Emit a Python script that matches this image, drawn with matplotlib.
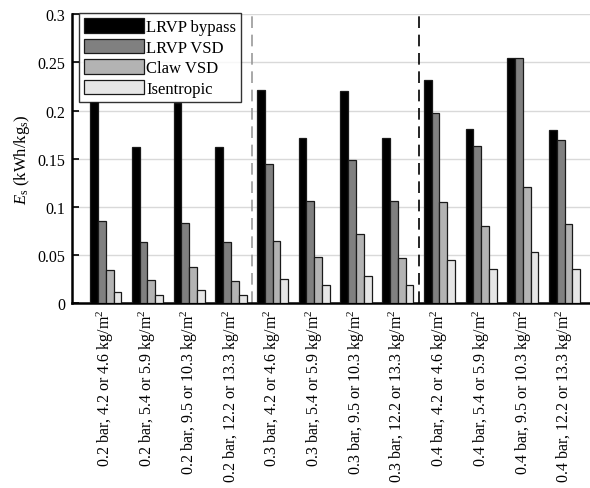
import matplotlib
matplotlib.use("Agg")
import matplotlib.pyplot as plt
import numpy as np

plt.rcParams['font.family'] = ['Liberation Serif', 'DejaVu Serif']
plt.rcParams['mathtext.fontset'] = 'custom'
plt.rcParams['mathtext.rm'] = 'Liberation Serif'
plt.rcParams['mathtext.it'] = 'Liberation Serif:italic'

# Operating points: pressure and loading
conditions = [
    "0.2 bar, 4.2 or 4.6 kg/m$^2$",
    "0.2 bar, 5.4 or 5.9 kg/m$^2$",
    "0.2 bar, 9.5 or 10.3 kg/m$^2$",
    "0.2 bar, 12.2 or 13.3 kg/m$^2$",
    "0.3 bar, 4.2 or 4.6 kg/m$^2$",
    "0.3 bar, 5.4 or 5.9 kg/m$^2$",
    "0.3 bar, 9.5 or 10.3 kg/m$^2$",
    "0.3 bar, 12.2 or 13.3 kg/m$^2$",
    "0.4 bar, 4.2 or 4.6 kg/m$^2$",
    "0.4 bar, 5.4 or 5.9 kg/m$^2$",
    "0.4 bar, 9.5 or 10.3 kg/m$^2$",
    "0.4 bar, 12.2 or 13.3 kg/m$^2$",
]

# Specific energy (kWh/kg_s) per pump configuration
lrvp_bypass = [0.209, 0.162, 0.208, 0.162, 0.221, 0.171, 0.220, 0.171, 0.232, 0.181, 0.255, 0.180]
lrvp_vsd    = [0.085, 0.063, 0.083, 0.063, 0.144, 0.106, 0.149, 0.106, 0.198, 0.163, 0.255, 0.169]
claw_vsd    = [0.034, 0.024, 0.037, 0.023, 0.064, 0.048, 0.072, 0.047, 0.105, 0.080, 0.121, 0.082]
isentropic  = [0.011, 0.008, 0.013, 0.008, 0.025, 0.019, 0.028, 0.019, 0.045, 0.035, 0.053, 0.035]

series = [
    ("LRVP bypass", lrvp_bypass, "#000000"),
    ("LRVP VSD", lrvp_vsd, "#808080"),
    ("Claw VSD", claw_vsd, "#b3b3b3"),
    ("Isentropic", isentropic, "#e6e6e6"),
]

fig = plt.figure(figsize=(5.9, 4.89), dpi=100)
ax = fig.add_axes([72 / 590, 1 - 304 / 489, 1 - 72 / 590, (304 - 15.4) / 489])

x = np.arange(1, len(conditions) + 1)
bw = 0.1875
offsets = [-1.5 * bw, -0.5 * bw, 0.5 * bw, 1.5 * bw]
for (name, vals, col), off in zip(series, offsets):
    ax.bar(x + off, vals, width=bw, color=col, edgecolor="#1a1a1a",
           linewidth=0.9, label=name, zorder=3)

# separators between pressure groups
ax.axvline(4.5, color="#999999", linestyle=(0, (7, 4)), linewidth=1.2, zorder=2)
ax.axvline(8.5, color="#000000", linestyle=(0, (7, 4)), linewidth=1.2, zorder=2)

ax.set_xlim(0.19, 12.61)
ax.set_ylim(0, 0.3)
ax.set_yticks([0, 0.05, 0.1, 0.15, 0.2, 0.25, 0.3])
ax.set_yticklabels(["0", "0.05", "0.1", "0.15", "0.2", "0.25", "0.3"])
ax.yaxis.grid(True, color="#d9d9d9", linewidth=1.0, zorder=0)
ax.set_axisbelow(True)

ax.set_xticks(x)
ax.set_xticklabels(conditions, rotation=90, fontsize=11.5)
ax.tick_params(axis="x", length=0, pad=4)
ax.tick_params(axis="y", direction="in", length=5, width=1.2, labelsize=11.5, pad=5)

for s in ("top", "right"):
    ax.spines[s].set_visible(False)
ax.spines["left"].set_linewidth(1.8)
ax.spines["bottom"].set_linewidth(1.8)

ax.set_ylabel("$E_\\mathrm{s}$ (kWh/kg$_\\mathrm{s}$)", fontsize=12, labelpad=4)

leg = ax.legend(loc="upper left", bbox_to_anchor=(0.013, 1.004), fontsize=12,
                frameon=True, fancybox=False, edgecolor="#000000",
                handlelength=3.6, handleheight=0.95, labelspacing=0.22,
                borderpad=0.3, handletextpad=0.15, borderaxespad=0.0)
leg.get_frame().set_linewidth(1.0)
leg.set_zorder(5)

fig.savefig("out.png", dpi=100)
